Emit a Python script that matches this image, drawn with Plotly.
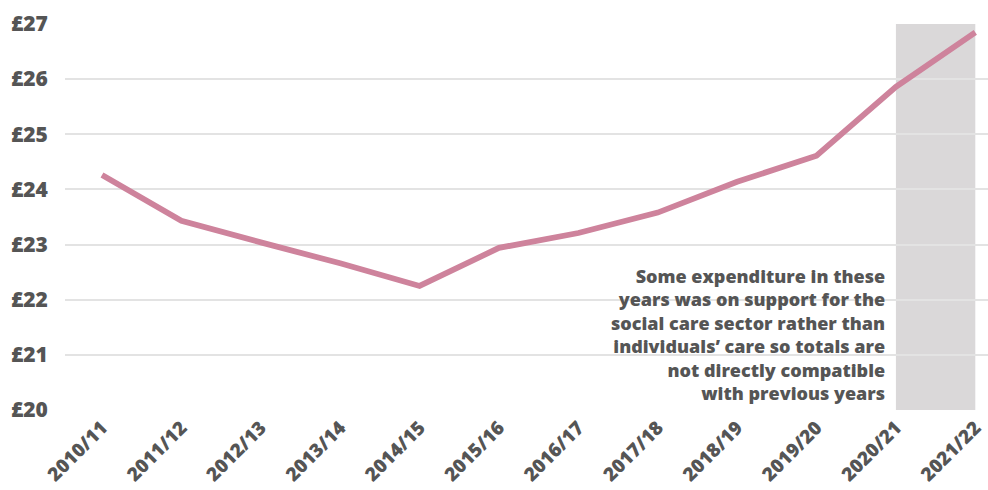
import plotly.graph_objects as go

# Spending per person (£) by financial year
years = ["2010/11", "2011/12", "2012/13", "2013/14", "2014/15", "2015/16",
         "2016/17", "2017/18", "2018/19", "2019/20", "2020/21", "2021/22"]
spend = [24.26, 23.43, 23.04, 22.66, 22.25, 22.94,
         23.21, 23.58, 24.14, 24.61, 25.86, 26.85]

y_ticks = [20, 21, 22, 23, 24, 25, 26, 27]
y_tick_text = ["£20", "£21", "£22", "£23", "£24", "£25", "£26", "£27"]

note_lines = ["Some expenditure in these",
              "years was on support for the",
              "social care sector rather than",
              "individuals’ care so totals are",
              "not directly compatible",
              "with previous years"]

TEXT = "#555555"
FONT = "Open Sans"

fig = go.Figure()
fig.add_trace(go.Scatter(
    x=years, y=spend, mode="lines",
    line=dict(color="#CE839C", width=5.8),
    hoverinfo="skip", showlegend=False,
))

# Shaded band over the last two years
fig.add_shape(type="rect", xref="x", yref="y",
              x0=years[-2], x1=years[-1], y0=20, y1=27,
              fillcolor="#DAD8D9", line_width=0, layer="below")

fig.add_annotation(
    xref="paper", yref="paper", x=0.8895, y=0.381,
    xanchor="right", yanchor="top", align="right",
    text="<br>".join(note_lines), showarrow=False, borderpad=0,
    font=dict(family=FONT, size=18, color=TEXT, weight=800),
)

fig.update_layout(
    width=988, height=490,
    margin=dict(l=65, r=0, t=24, b=80),
    paper_bgcolor="white", plot_bgcolor="white",
    font=dict(family=FONT, color=TEXT),
    xaxis=dict(
        type="category", range=[-0.466, 11.16], automargin=False,
        tickangle=-45, showgrid=False, zeroline=False, showline=False,
        ticks="", ticklabelstandoff=2,
        tickfont=dict(family=FONT, size=19, color=TEXT, weight=800),
    ),
    yaxis=dict(
        range=[20, 27], tickvals=y_ticks, ticktext=y_tick_text,
        automargin=False,
        showgrid=True, gridcolor="#E3E3E3", gridwidth=2,
        zeroline=False, showline=False,
        ticks="outside", ticklen=12, tickcolor="rgba(0,0,0,0)",
        tickfont=dict(family=FONT, size=21, color=TEXT, weight=800),
    ),
)

fig.write_html("out.html")
